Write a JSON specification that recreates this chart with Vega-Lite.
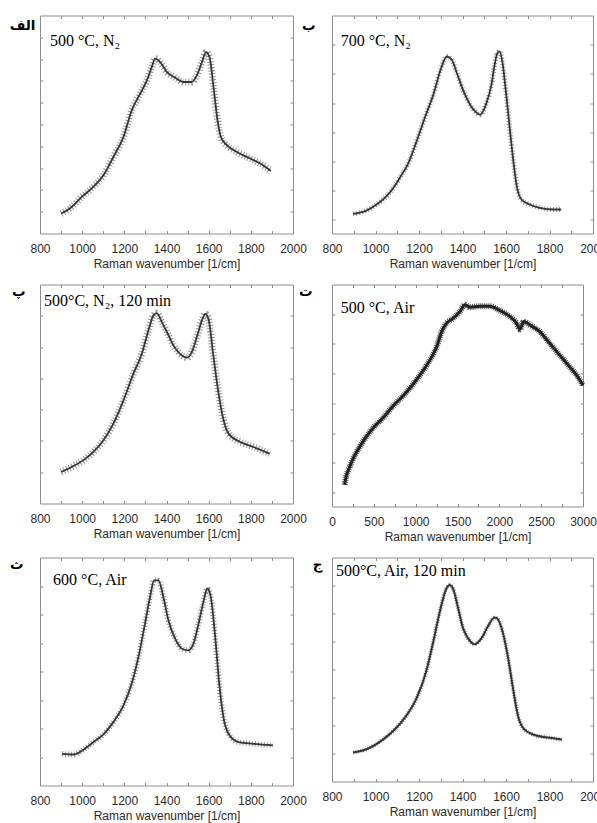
{
  "$schema": "https://vega.github.io/schema/vega-lite/v6.json",
  "background": "white",
  "padding": {"left": 8, "top": 14.5, "right": 0, "bottom": 0},
  "config": {
    "view": {"stroke": "#8c8c8c", "strokeWidth": 1},
    "axis": {"grid": false, "domain": false, "tickColor": "#8c8c8c", "tickSize": -3, "tickWidth": 1,
      "labelFont": "Liberation Sans", "labelFontSize": 12, "labelColor": "#2a2a2a",
      "titleFont": "Liberation Sans", "titleFontSize": 12, "titleFontWeight": "normal", "titleColor": "#2a2a2a",
      "labelFlush": false, "labelOverlap": false, "format": "d"},
    "text": {"font": "Liberation Serif", "fontSize": 16, "align": "left", "baseline": "alphabetic", "color": "#000"},
    "line": {"interpolate": "monotone"}
  },
  "columns": 2,
  "align": "none",
  "bounds": "flush",
  "spacing": {"row": 51, "column": 39},
  "concat": [
    {
      "width": 253, "height": 218,
      "data": {"values": [
        {"wavenumber": 900, "intensity": 9.2}, {"wavenumber": 942, "intensity": 11.5}, {"wavenumber": 998, "intensity": 16.8},
        {"wavenumber": 1053, "intensity": 21.4}, {"wavenumber": 1101, "intensity": 26.7}, {"wavenumber": 1148, "intensity": 35.1},
        {"wavenumber": 1196, "intensity": 44.3}, {"wavenumber": 1235, "intensity": 56.5}, {"wavenumber": 1275, "intensity": 64.1},
        {"wavenumber": 1307, "intensity": 70.2}, {"wavenumber": 1330, "intensity": 76.3}, {"wavenumber": 1346, "intensity": 80.2},
        {"wavenumber": 1370, "intensity": 78.6}, {"wavenumber": 1402, "intensity": 74.0}, {"wavenumber": 1441, "intensity": 71.5},
        {"wavenumber": 1481, "intensity": 69.5}, {"wavenumber": 1520, "intensity": 69.5}, {"wavenumber": 1544, "intensity": 72.5},
        {"wavenumber": 1568, "intensity": 78.6}, {"wavenumber": 1588, "intensity": 83.2}, {"wavenumber": 1604, "intensity": 80.9},
        {"wavenumber": 1623, "intensity": 67.2}, {"wavenumber": 1642, "intensity": 51.9}, {"wavenumber": 1658, "intensity": 44.3},
        {"wavenumber": 1686, "intensity": 40.5}, {"wavenumber": 1734, "intensity": 37.4}, {"wavenumber": 1797, "intensity": 34.4},
        {"wavenumber": 1845, "intensity": 32.1}, {"wavenumber": 1895, "intensity": 28.7}
      ]},
      "layer": [
        {
          "mark": {"type": "line", "color": "#3a3a3a", "strokeWidth": 7, "strokeDash": [1, 2], "opacity": 0.55},
          "encoding": {
            "x": {"field": "wavenumber", "type": "quantitative", "scale": {"domain": [800, 2000], "nice": false}, "axis": null},
            "y": {"field": "intensity", "type": "quantitative", "scale": {"domain": [0, 100], "nice": false}, "axis": null}
          }
        },
        {
          "mark": {"type": "line", "color": "#222", "strokeWidth": 1.8, "opacity": 0.9},
          "encoding": {
            "x": {"field": "wavenumber", "type": "quantitative",
              "axis": {"orient": "bottom", "values": [800,900,1000,1100,1200,1300,1400,1500,1600,1700,1800,1900,2000],
                "labelExpr": "datum.value % 200 == 0 ? datum.label : ''", "labelPadding": 13, "titlePadding": 4,
                "title": "Raman wavenumber [1/cm]"}},
            "y": {"field": "intensity", "type": "quantitative",
              "axis": {"orient": "left", "values": [10,20,30,40,50,60,70,80,90], "labels": false,
                "title": "الف", "titleAngle": 0, "titleAlign": "right", "titleBaseline": "top", "titleX": -5, "titleY": 3,
                "titleFont": "DejaVu Sans", "titleFontWeight": "bold", "titleFontSize": 13.5, "titleColor": "#000"}}
          }
        },
        {
          "data": {"values": [{"label": "500 °C, N₂"}]},
          "mark": {"type": "text"},
          "encoding": {
            "text": {"field": "label"},
            "x": {"datum": 847, "type": "quantitative",
              "axis": {"orient": "top", "values": [800,900,1000,1100,1200,1300,1400,1500,1600,1700,1800,1900,2000], "labels": false, "title": null}},
            "y": {"datum": 86.2, "type": "quantitative",
              "axis": {"orient": "right", "values": [10,20,30,40,50,60,70,80,90], "labels": false, "title": null}}
          }
        }
      ],
      "resolve": {"axis": {"x": "independent", "y": "independent"}}
    },
    {
      "width": 261, "height": 218,
      "data": {"values": [
        {"wavenumber": 897, "intensity": 9.0}, {"wavenumber": 958, "intensity": 10.5}, {"wavenumber": 1005, "intensity": 13.3},
        {"wavenumber": 1051, "intensity": 17.1}, {"wavenumber": 1082, "intensity": 20.9}, {"wavenumber": 1112, "intensity": 25.6},
        {"wavenumber": 1150, "intensity": 32.0}, {"wavenumber": 1189, "intensity": 42.3}, {"wavenumber": 1230, "intensity": 54.0},
        {"wavenumber": 1266, "intensity": 63.7}, {"wavenumber": 1297, "intensity": 74.4}, {"wavenumber": 1328, "intensity": 81.2},
        {"wavenumber": 1351, "intensity": 79.7}, {"wavenumber": 1374, "intensity": 73.6}, {"wavenumber": 1405, "intensity": 65.2},
        {"wavenumber": 1435, "intensity": 59.1}, {"wavenumber": 1458, "intensity": 56.0}, {"wavenumber": 1481, "intensity": 54.5},
        {"wavenumber": 1510, "intensity": 59.8}, {"wavenumber": 1533, "intensity": 68.2}, {"wavenumber": 1548, "intensity": 77.4},
        {"wavenumber": 1560, "intensity": 82.7}, {"wavenumber": 1571, "intensity": 83.5}, {"wavenumber": 1583, "intensity": 78.9},
        {"wavenumber": 1601, "intensity": 63.7}, {"wavenumber": 1617, "intensity": 48.4}, {"wavenumber": 1632, "intensity": 34.7},
        {"wavenumber": 1651, "intensity": 20.9}, {"wavenumber": 1671, "intensity": 15.6}, {"wavenumber": 1709, "intensity": 13.3},
        {"wavenumber": 1755, "intensity": 11.8}, {"wavenumber": 1816, "intensity": 11.0}, {"wavenumber": 1854, "intensity": 11.0}
      ]},
      "layer": [
        {
          "mark": {"type": "line", "color": "#3a3a3a", "strokeWidth": 5, "strokeDash": [1, 2], "opacity": 0.55},
          "encoding": {
            "x": {"field": "wavenumber", "type": "quantitative", "scale": {"domain": [800, 2000], "nice": false}, "axis": null},
            "y": {"field": "intensity", "type": "quantitative", "scale": {"domain": [0, 100], "nice": false}, "axis": null}
          }
        },
        {
          "mark": {"type": "line", "color": "#222", "strokeWidth": 1.8, "opacity": 0.9},
          "encoding": {
            "x": {"field": "wavenumber", "type": "quantitative",
              "axis": {"orient": "bottom", "values": [800,900,1000,1100,1200,1300,1400,1500,1600,1700,1800,1900,2000],
                "labelExpr": "datum.value % 200 == 0 ? datum.label : ''", "labelPadding": 13, "titlePadding": 4,
                "title": "Raman wavenumber [1/cm]"}},
            "y": {"field": "intensity", "type": "quantitative",
              "axis": {"orient": "left", "values": [6.4,19.8,33.1,46.5,59.8,73.2,86.5], "labels": false,
                "title": "ب", "titleAngle": 0, "titleAlign": "right", "titleBaseline": "top", "titleX": -17, "titleY": 3,
                "titleFont": "DejaVu Sans", "titleFontWeight": "bold", "titleFontSize": 13.5, "titleColor": "#000"}}
          }
        },
        {
          "data": {"values": [{"label": "700 °C, N₂"}]},
          "mark": {"type": "text"},
          "encoding": {
            "text": {"field": "label"},
            "x": {"datum": 840, "type": "quantitative",
              "axis": {"orient": "top", "values": [800,900,1000,1100,1200,1300,1400,1500,1600,1700,1800,1900,2000], "labels": false, "title": null}},
            "y": {"datum": 85.8, "type": "quantitative",
              "axis": {"orient": "right", "values": [6.4,19.8,33.1,46.5,59.8,73.2,86.5], "labels": false, "title": null}}
          }
        }
      ],
      "resolve": {"axis": {"x": "independent", "y": "independent"}}
    },
    {
      "width": 253, "height": 219,
      "data": {"values": [
        {"wavenumber": 900, "intensity": 14.4}, {"wavenumber": 950, "intensity": 16.7}, {"wavenumber": 1006, "intensity": 19.8},
        {"wavenumber": 1053, "intensity": 23.6}, {"wavenumber": 1101, "intensity": 28.9}, {"wavenumber": 1148, "intensity": 36.5},
        {"wavenumber": 1196, "intensity": 47.1}, {"wavenumber": 1243, "intensity": 59.3}, {"wavenumber": 1283, "intensity": 68.4},
        {"wavenumber": 1314, "intensity": 79.0}, {"wavenumber": 1338, "intensity": 85.9}, {"wavenumber": 1354, "intensity": 86.9},
        {"wavenumber": 1378, "intensity": 82.8}, {"wavenumber": 1402, "intensity": 78.3}, {"wavenumber": 1433, "intensity": 72.2},
        {"wavenumber": 1473, "intensity": 67.6}, {"wavenumber": 1497, "intensity": 66.6}, {"wavenumber": 1520, "intensity": 69.1},
        {"wavenumber": 1544, "intensity": 76.0}, {"wavenumber": 1568, "intensity": 83.6}, {"wavenumber": 1584, "intensity": 86.6},
        {"wavenumber": 1599, "intensity": 84.3}, {"wavenumber": 1623, "intensity": 66.9}, {"wavenumber": 1647, "intensity": 50.2},
        {"wavenumber": 1671, "intensity": 38.0}, {"wavenumber": 1694, "intensity": 31.9}, {"wavenumber": 1750, "intensity": 28.1},
        {"wavenumber": 1813, "intensity": 25.8}, {"wavenumber": 1889, "intensity": 22.8}
      ]},
      "layer": [
        {
          "mark": {"type": "line", "color": "#3a3a3a", "strokeWidth": 7, "strokeDash": [1, 2], "opacity": 0.55},
          "encoding": {
            "x": {"field": "wavenumber", "type": "quantitative", "scale": {"domain": [800, 2000], "nice": false}, "axis": null},
            "y": {"field": "intensity", "type": "quantitative", "scale": {"domain": [0, 100], "nice": false}, "axis": null}
          }
        },
        {
          "mark": {"type": "line", "color": "#222", "strokeWidth": 1.8, "opacity": 0.9},
          "encoding": {
            "x": {"field": "wavenumber", "type": "quantitative",
              "axis": {"orient": "bottom", "values": [800,900,1000,1100,1200,1300,1400,1500,1600,1700,1800,1900,2000],
                "labelExpr": "datum.value % 200 == 0 ? datum.label : ''", "labelPadding": 13, "titlePadding": 4,
                "title": "Raman wavenumber [1/cm]"}},
            "y": {"field": "intensity", "type": "quantitative",
              "axis": {"orient": "left", "values": [14.3,28.6,42.9,57.1,71.4,85.7], "labels": false,
                "title": "پ", "titleAngle": 0, "titleAlign": "right", "titleBaseline": "top", "titleX": -15, "titleY": 0,
                "titleFont": "DejaVu Sans", "titleFontWeight": "bold", "titleFontSize": 13.5, "titleColor": "#000"}}
          }
        },
        {
          "data": {"values": [{"label": "500°C, N₂, 120 min"}]},
          "mark": {"type": "text"},
          "encoding": {
            "text": {"field": "label"},
            "x": {"datum": 819, "type": "quantitative",
              "axis": {"orient": "top", "values": [800,900,1000,1100,1200,1300,1400,1500,1600,1700,1800,1900,2000], "labels": false, "title": null}},
            "y": {"datum": 90.4, "type": "quantitative",
              "axis": {"orient": "right", "values": [14.3,28.6,42.9,57.1,71.4,85.7], "labels": false, "title": null}}
          }
        }
      ],
      "resolve": {"axis": {"x": "independent", "y": "independent"}}
    },
    {
      "width": 251, "height": 222,
      "data": {"values": [
        {"wavenumber": 151, "intensity": 9.8}, {"wavenumber": 167, "intensity": 13.2}, {"wavenumber": 199, "intensity": 16.7},
        {"wavenumber": 258, "intensity": 22.0}, {"wavenumber": 338, "intensity": 27.3}, {"wavenumber": 417, "intensity": 31.8},
        {"wavenumber": 497, "intensity": 35.6}, {"wavenumber": 616, "intensity": 40.2}, {"wavenumber": 735, "intensity": 45.5},
        {"wavenumber": 854, "intensity": 50.0}, {"wavenumber": 973, "intensity": 55.3}, {"wavenumber": 1093, "intensity": 61.4},
        {"wavenumber": 1192, "intensity": 67.4}, {"wavenumber": 1252, "intensity": 72.0}, {"wavenumber": 1311, "intensity": 78.8},
        {"wavenumber": 1371, "intensity": 82.6}, {"wavenumber": 1450, "intensity": 84.8}, {"wavenumber": 1530, "intensity": 87.9},
        {"wavenumber": 1589, "intensity": 90.9}, {"wavenumber": 1649, "intensity": 89.8}, {"wavenumber": 1768, "intensity": 90.2},
        {"wavenumber": 1887, "intensity": 90.2}, {"wavenumber": 2006, "intensity": 88.3}, {"wavenumber": 2125, "intensity": 85.6},
        {"wavenumber": 2205, "intensity": 82.6}, {"wavenumber": 2245, "intensity": 79.8}, {"wavenumber": 2292, "intensity": 83.3},
        {"wavenumber": 2364, "intensity": 81.8}, {"wavenumber": 2483, "intensity": 78.8}, {"wavenumber": 2602, "intensity": 73.5},
        {"wavenumber": 2721, "intensity": 68.2}, {"wavenumber": 2841, "intensity": 62.9}, {"wavenumber": 2940, "intensity": 58.3},
        {"wavenumber": 3000, "intensity": 54.5}
      ]},
      "layer": [
        {
          "mark": {"type": "line", "color": "#222", "strokeWidth": 6, "strokeDash": [1, 1], "opacity": 0.75},
          "encoding": {
            "x": {"field": "wavenumber", "type": "quantitative", "scale": {"domain": [0, 3000], "nice": false}, "axis": null},
            "y": {"field": "intensity", "type": "quantitative", "scale": {"domain": [0, 100], "nice": false}, "axis": null}
          }
        },
        {
          "mark": {"type": "line", "color": "#1a1a1a", "strokeWidth": 3, "opacity": 0.95},
          "encoding": {
            "x": {"field": "wavenumber", "type": "quantitative",
              "axis": {"orient": "bottom", "values": [0,250,500,750,1000,1250,1500,1750,2000,2250,2500,2750,3000],
                "labelExpr": "datum.value % 500 == 0 ? datum.label : ''", "labelPadding": 13, "titlePadding": 4,
                "title": "Raman wavenumber [1/cm]"}},
            "y": {"field": "intensity", "type": "quantitative",
              "axis": {"orient": "left", "values": [6.4,19.7,33,46.4,59.8,73.2,86.5], "labels": false,
                "title": "ت", "titleAngle": 0, "titleAlign": "right", "titleBaseline": "top", "titleX": -20, "titleY": 0,
                "titleFont": "DejaVu Sans", "titleFontWeight": "bold", "titleFontSize": 13.5, "titleColor": "#000"}}
          }
        },
        {
          "data": {"values": [{"label": "500 °C, Air"}]},
          "mark": {"type": "text"},
          "encoding": {
            "text": {"field": "label"},
            "x": {"datum": 104, "type": "quantitative",
              "axis": {"orient": "top", "values": [0,250,500,750,1000,1250,1500,1750,2000,2250,2500,2750,3000], "labels": false, "title": null}},
            "y": {"datum": 87.3, "type": "quantitative",
              "axis": {"orient": "right", "values": [6.4,19.7,33,46.4,59.8,73.2,86.5], "labels": false, "title": null}}
          }
        }
      ],
      "resolve": {"axis": {"x": "independent", "y": "independent"}}
    },
    {
      "width": 253, "height": 228,
      "data": {"values": [
        {"wavenumber": 905, "intensity": 13.9}, {"wavenumber": 958, "intensity": 13.6}, {"wavenumber": 1006, "intensity": 15.7},
        {"wavenumber": 1053, "intensity": 19.0}, {"wavenumber": 1101, "intensity": 22.4}, {"wavenumber": 1148, "intensity": 27.8},
        {"wavenumber": 1196, "intensity": 35.1}, {"wavenumber": 1235, "intensity": 44.7}, {"wavenumber": 1267, "intensity": 56.4},
        {"wavenumber": 1298, "intensity": 71.0}, {"wavenumber": 1322, "intensity": 82.7}, {"wavenumber": 1341, "intensity": 90.0},
        {"wavenumber": 1362, "intensity": 90.0}, {"wavenumber": 1385, "intensity": 82.7}, {"wavenumber": 1409, "intensity": 72.5},
        {"wavenumber": 1441, "intensity": 64.4}, {"wavenumber": 1473, "intensity": 60.0}, {"wavenumber": 1504, "intensity": 59.3},
        {"wavenumber": 1528, "intensity": 62.2}, {"wavenumber": 1552, "intensity": 71.0}, {"wavenumber": 1575, "intensity": 80.5},
        {"wavenumber": 1594, "intensity": 86.4}, {"wavenumber": 1610, "intensity": 82.7}, {"wavenumber": 1631, "intensity": 65.2},
        {"wavenumber": 1650, "intensity": 44.7}, {"wavenumber": 1670, "intensity": 30.0}, {"wavenumber": 1694, "intensity": 22.7},
        {"wavenumber": 1742, "intensity": 19.0}, {"wavenumber": 1813, "intensity": 18.3}, {"wavenumber": 1905, "intensity": 17.6}
      ]},
      "layer": [
        {
          "mark": {"type": "line", "color": "#3a3a3a", "strokeWidth": 5.5, "strokeDash": [1, 2], "opacity": 0.55},
          "encoding": {
            "x": {"field": "wavenumber", "type": "quantitative", "scale": {"domain": [800, 2000], "nice": false}, "axis": null},
            "y": {"field": "intensity", "type": "quantitative", "scale": {"domain": [0, 100], "nice": false}, "axis": null}
          }
        },
        {
          "mark": {"type": "line", "color": "#222", "strokeWidth": 1.8, "opacity": 0.9},
          "encoding": {
            "x": {"field": "wavenumber", "type": "quantitative",
              "axis": {"orient": "bottom", "values": [800,900,1000,1100,1200,1300,1400,1500,1600,1700,1800,1900,2000],
                "labelExpr": "datum.value % 200 == 0 ? datum.label : ''", "labelPadding": 13, "titlePadding": 4,
                "title": "Raman wavenumber [1/cm]"}},
            "y": {"field": "intensity", "type": "quantitative",
              "axis": {"orient": "left", "values": [12.5,25,37.5,50,62.5,75,87.5], "labels": false,
                "title": "ث", "titleAngle": 0, "titleAlign": "right", "titleBaseline": "top", "titleX": -17, "titleY": 0,
                "titleFont": "DejaVu Sans", "titleFontWeight": "bold", "titleFontSize": 13.5, "titleColor": "#000"}}
          }
        },
        {
          "data": {"values": [{"label": "600 °C, Air"}]},
          "mark": {"type": "text"},
          "encoding": {
            "text": {"field": "label"},
            "x": {"datum": 862, "type": "quantitative",
              "axis": {"orient": "top", "values": [800,900,1000,1100,1200,1300,1400,1500,1600,1700,1800,1900,2000], "labels": false, "title": null}},
            "y": {"datum": 87.9, "type": "quantitative",
              "axis": {"orient": "right", "values": [12.5,25,37.5,50,62.5,75,87.5], "labels": false, "title": null}}
          }
        }
      ],
      "resolve": {"axis": {"x": "independent", "y": "independent"}}
    },
    {
      "width": 261, "height": 224,
      "data": {"values": [
        {"wavenumber": 897, "intensity": 12.9}, {"wavenumber": 958, "intensity": 14.4}, {"wavenumber": 1034, "intensity": 18.7},
        {"wavenumber": 1096, "intensity": 24.0}, {"wavenumber": 1142, "intensity": 29.4}, {"wavenumber": 1188, "intensity": 37.0},
        {"wavenumber": 1234, "intensity": 49.4}, {"wavenumber": 1264, "intensity": 61.7}, {"wavenumber": 1295, "intensity": 75.5},
        {"wavenumber": 1326, "intensity": 86.2}, {"wavenumber": 1341, "intensity": 87.7}, {"wavenumber": 1356, "intensity": 86.2},
        {"wavenumber": 1379, "intensity": 77.8}, {"wavenumber": 1402, "intensity": 68.6}, {"wavenumber": 1425, "intensity": 64.0},
        {"wavenumber": 1456, "intensity": 61.3}, {"wavenumber": 1487, "intensity": 63.9}, {"wavenumber": 1517, "intensity": 69.3},
        {"wavenumber": 1548, "intensity": 73.2}, {"wavenumber": 1563, "intensity": 72.4}, {"wavenumber": 1586, "intensity": 66.3},
        {"wavenumber": 1609, "intensity": 55.5}, {"wavenumber": 1632, "intensity": 41.7}, {"wavenumber": 1655, "intensity": 29.4},
        {"wavenumber": 1678, "intensity": 24.0}, {"wavenumber": 1724, "intensity": 21.0}, {"wavenumber": 1801, "intensity": 19.5},
        {"wavenumber": 1857, "intensity": 18.7}
      ]},
      "layer": [
        {
          "mark": {"type": "line", "color": "#3a3a3a", "strokeWidth": 4, "strokeDash": [1, 1.5], "opacity": 0.6},
          "encoding": {
            "x": {"field": "wavenumber", "type": "quantitative", "scale": {"domain": [800, 2000], "nice": false}, "axis": null},
            "y": {"field": "intensity", "type": "quantitative", "scale": {"domain": [0, 100], "nice": false}, "axis": null}
          }
        },
        {
          "mark": {"type": "line", "color": "#222", "strokeWidth": 2, "opacity": 0.9},
          "encoding": {
            "x": {"field": "wavenumber", "type": "quantitative",
              "axis": {"orient": "bottom", "values": [800,900,1000,1100,1200,1300,1400,1500,1600,1700,1800,1900,2000],
                "labelExpr": "datum.value % 200 == 0 ? datum.label : ''", "labelPadding": 13, "titlePadding": 4,
                "title": "Raman wavenumber [1/cm]"}},
            "y": {"field": "intensity", "type": "quantitative",
              "axis": {"orient": "left", "values": [12.5,25,37.5,50,62.5,75,87.5], "labels": false,
                "title": "ج", "titleAngle": 0, "titleAlign": "right", "titleBaseline": "top", "titleX": -10, "titleY": 0,
                "titleFont": "DejaVu Sans", "titleFontWeight": "bold", "titleFontSize": 13.5, "titleColor": "#000"}}
          }
        },
        {
          "data": {"values": [{"label": "500°C, Air, 120 min"}]},
          "mark": {"type": "text"},
          "encoding": {
            "text": {"field": "label"},
            "x": {"datum": 818, "type": "quantitative",
              "axis": {"orient": "top", "values": [800,900,1000,1100,1200,1300,1400,1500,1600,1700,1800,1900,2000], "labels": false, "title": null}},
            "y": {"datum": 91.9, "type": "quantitative",
              "axis": {"orient": "right", "values": [12.5,25,37.5,50,62.5,75,87.5], "labels": false, "title": null}}
          }
        }
      ],
      "resolve": {"axis": {"x": "independent", "y": "independent"}}
    }
  ]
}
